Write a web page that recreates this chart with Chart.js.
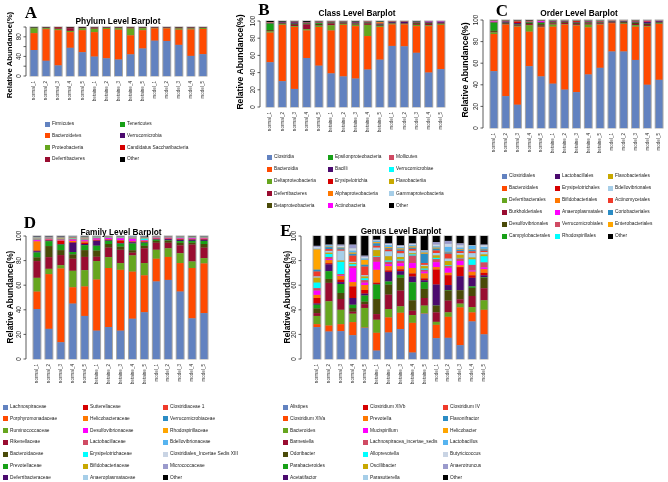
<!DOCTYPE html>
<html>
<head>
<meta charset="utf-8">
<script src="https://cdn.jsdelivr.net/npm/chart.js@4.4.1/dist/chart.umd.min.js"></script>
<style>
  body { margin: 0; width: 668px; height: 482px; position: relative; overflow: hidden; background: #fff;
         font-family: "Liberation Sans", Arial, sans-serif; }
  canvas { position: absolute; }
  .letter { position: absolute; font-family: "Liberation Serif", "Times New Roman", serif; font-weight: bold;
            font-size: 17px; line-height: 17px; transform: translate(-50%, -50%); }
  .title { position: absolute; font-weight: bold; font-size: 8.3px; white-space: nowrap; transform: translate(-50%, -50%); }
  .ytitle { position: absolute; font-weight: bold; white-space: nowrap; transform: translate(-50%, -50%) rotate(-90deg); }
  .sw { position: absolute; width: 5px; height: 5px; }
  .lt { position: absolute; font-size: 4.8px; line-height: 6px; color: #222; white-space: nowrap; }
</style>
</head>
<body>
<script>
const samples = ["normal_1", "normal_2", "normal_3", "normal_4", "normal_5",
  "betaine_1", "betaine_2", "betaine_3", "betaine_4", "betaine_5",
  "model_1", "model_2", "model_3", "model_4", "model_5"];

// palette shared by the panels (R style)
const pal = ["#6282c0", "#ff4a00", "#66a61e", "#990c30", "#4a4a08", "#17a017", "#4b0a6e",
  "#d60000", "#ff7800", "#ff00ff", "#d04a63", "#00ffff", "#c8a800", "#a6cee8",
  "#f03a2a", "#2b8cc4", "#ffa500", "#56b4f0", "#c9d4e4", "#9a9acc"];

// ---- A: phylum ----
const phylumNames = ["Firmicutes", "Bacteroidetes", "Proteobacteria", "Deferribacteres",
  "Tenericutes", "Verrucomicrobia", "Candidatus Saccharibacteria", "Other"];
const phylumColors = [pal[0], pal[1], pal[2], pal[3], pal[5], pal[6], pal[7], "#000000"];
const phylumValues = [
  [53, 31, 21.5, 57.5, 48.5, 39.5, 36, 33.5, 44, 56, 72, 71.5, 63.5, 41, 44.5],
  [34.5, 64.5, 72, 32, 45, 50, 60, 61, 39, 37.5, 25, 25.5, 31, 54, 51.5],
  [10, 2, 2.5, 2.5, 3.5, 7, 2, 3, 14, 4, 1, 1, 2.5, 2, 2],
  [0.5, 0.5, 1.5, 5.5, 0.5, 2, 0.5, 0.5, 1.5, 0.5, 0.5, 0.5, 1, 1.5, 0.5],
  [0.5, 0.2, 0.2, 0.2, 0.5, 0.2, 0.2, 0.2, 0.3, 0.2, 0.2, 0.2, 0.2, 0.2, 0.2],
  [0.2, 0.3, 0.3, 0.3, 0.2, 0.3, 0.2, 0.3, 0.2, 0.3, 0.2, 0.2, 0.3, 0.3, 0.3],
  [0.3, 0.5, 1, 0.5, 0.3, 0.3, 0.3, 0.5, 0.3, 0.5, 0.3, 0.3, 0.5, 0.3, 0.3],
  [1, 1, 1, 1.5, 1.5, 0.7, 0.8, 1, 0.7, 1, 0.8, 0.8, 1, 0.7, 0.7]
];

// ---- B: class ----
const classNames = ["Clostridia", "Bacteroidia", "Deltaproteobacteria", "Deferribacteres", "Betaproteobacteria",
  "Epsilonproteobacteria", "Bacilli", "Erysipelotrichia", "Alphaproteobacteria", "Actinobacteria",
  "Mollicutes", "Verrucomicrobiae", "Flavobacteriia", "Gammaproteobacteria", "Other"];
const classValues = [
  [52, 30, 21, 57, 48, 39, 35.5, 33, 43.5, 55, 71, 70.5, 63, 40, 44],
  [34.5, 65.5, 72, 32, 45, 50, 60, 61, 39, 38, 25, 25.5, 31, 54, 51.5],
  [1.5, 0.8, 1, 1.5, 1.5, 6, 1, 1.5, 13, 1, 0.8, 0.5, 1.5, 1, 1],
  [0.5, 0.3, 1.5, 5.5, 0.5, 2, 0.5, 0.5, 1.5, 0.5, 0.3, 0.5, 1, 1.5, 0.5],
  [1, 0.7, 1, 1, 1.5, 1, 1, 1, 1, 1, 0.5, 0.5, 1, 1, 0.5],
  [7.5, 0.2, 0.3, 0.5, 1, 0.3, 0.2, 0.3, 0.3, 0.3, 0.2, 0.2, 0.3, 0.2, 0.2],
  [0.5, 0.8, 1.5, 0.5, 0.5, 0.5, 0.5, 1, 0.5, 1, 1, 1.2, 0.5, 0.7, 0.8],
  [0.3, 0.2, 0.5, 0.3, 0.3, 0.2, 0.2, 0.3, 0.2, 0.3, 0.3, 0.2, 0.3, 0.2, 0.2],
  [0.2, 0.1, 0.1, 0.1, 0.2, 0.1, 0.1, 0.1, 0.1, 1.5, 0.1, 0.1, 0.1, 0.1, 0.1],
  [0.1, 0.1, 0.1, 0.1, 0.1, 0.1, 0.1, 0.1, 0.1, 0.1, 0.1, 0.1, 0.1, 0.5, 0.5],
  [0.3, 0.1, 0.1, 0.1, 0.5, 0.1, 0.1, 0.1, 0.2, 0.1, 0.1, 0.1, 0.1, 0.1, 0.1],
  [0.1, 0.1, 0.1, 0.1, 0.1, 0.1, 0.1, 0.1, 0.1, 0.2, 0.1, 0.1, 0.1, 0.1, 0.1],
  [0.1, 0.1, 0.1, 0.1, 0.1, 0.1, 0.1, 0.1, 0.1, 0.1, 0.1, 0.1, 0.1, 0.1, 0.1],
  [0.1, 0.1, 0.1, 0.1, 0.1, 0.1, 0.1, 0.1, 0.1, 0.1, 0.1, 0.1, 0.1, 0.1, 0.1],
  [1.3, 0.9, 0.6, 1.1, 0.6, 0.4, 0.5, 0.8, 0.3, 0.8, 0.3, 0.3, 0.7, 0.3, 0.3]
];

// ---- C: order ----
const orderNames = ["Clostridiales", "Bacteroidales", "Deferribacterales", "Burkholderiales", "Desulfovibrionales",
  "Campylobacterales", "Lactobacillales", "Erysipelotrichales", "Bifidobacteriales", "Anaeroplasmatales",
  "Verrucomicrobiales", "Rhodospirillales", "Flavobacteriales", "Bdellovibrionales", "Actinomycetales",
  "Coriobacteriales", "Enterobacteriales", "Other"];
const orderValues = [
  [52.6, 29.5, 21.5, 57.2, 47.7, 41, 35.5, 33.2, 49.5, 55.7, 70.8, 70.8, 63, 40, 44.6],
  [34.4, 66.2, 72.3, 32, 45.5, 52.8, 60.2, 61.6, 43.7, 40, 26.2, 25.5, 30.8, 53.8, 51.7],
  [1.5, 0.3, 0.5, 6, 0.5, 2, 0.5, 0.5, 2.5, 0.5, 0.2, 0.5, 1.5, 0.7, 0.5],
  [0.5, 0.5, 0.5, 1, 1, 1, 1, 0.8, 1, 0.7, 0.5, 0.5, 1, 0.9, 0.5],
  [1, 0.8, 1, 1, 1.5, 1, 0.8, 1, 1, 0.7, 0.5, 0.8, 1, 1, 0.6],
  [7.5, 0.2, 0.3, 0.5, 1, 0.3, 0.2, 0.3, 0.3, 0.3, 0.2, 0.2, 0.3, 0.2, 0.2],
  [0.3, 1, 1, 0.5, 0.5, 0.5, 0.5, 0.5, 0.5, 0.5, 0.5, 0.6, 0.8, 1.5, 0.7],
  [0.3, 0.2, 1.5, 0.3, 0.3, 0.2, 0.2, 1, 0.2, 0.2, 0.2, 0.2, 0.3, 0.5, 0.2],
  [0.1, 0.1, 0.1, 0.1, 0.1, 0.1, 0.1, 0.1, 0.1, 0.3, 0.1, 0.1, 0.1, 0.1, 0.1],
  [0.5, 0.1, 0.1, 0.1, 0.8, 0.1, 0.1, 0.1, 0.2, 0.1, 0.1, 0.1, 0.1, 0.5, 0.1],
  [0.3, 0.1, 0.1, 0.1, 0.1, 0.1, 0.1, 0.1, 0.1, 0.1, 0.1, 0.1, 0.1, 0.1, 0.1],
  [0.1, 0.1, 0.1, 0.1, 0.1, 0.1, 0.1, 0.1, 0.1, 0.1, 0.1, 0.1, 0.1, 0.1, 0.1],
  [0.1, 0.1, 0.1, 0.1, 0.1, 0.1, 0.1, 0.1, 0.1, 0.1, 0.1, 0.1, 0.1, 0.1, 0.1],
  [0.1, 0.1, 0.1, 0.1, 0.1, 0.1, 0.1, 0.1, 0.1, 0.1, 0.1, 0.1, 0.1, 0.1, 0.1],
  [0.1, 0.1, 0.1, 0.1, 0.1, 0.1, 0.1, 0.1, 0.1, 0.1, 0.1, 0.1, 0.1, 0.1, 0.1],
  [0.1, 0.1, 0.1, 0.1, 0.1, 0.1, 0.1, 0.1, 0.1, 0.1, 0.05, 0.1, 0.1, 0.1, 0.1],
  [0.1, 0.1, 0.1, 0.1, 0.1, 0.1, 0.1, 0.1, 0.1, 0.1, 0.05, 0.1, 0.1, 0.1, 0.1],
  [0.4, 0.4, 0.5, 0.6, 0.4, 0.3, 0.2, 0.2, 0.3, 0.3, 0.1, 0.1, 0.4, 0.1, 0.1]
];

// ---- D: family ----
const familyNames = ["Lachnospiraceae", "Porphyromonadaceae", "Ruminococcaceae", "Rikenellaceae", "Bacteroidaceae",
  "Prevotellaceae", "Deferribacteraceae", "Sutterellaceae", "Helicobacteraceae", "Desulfovibrionaceae",
  "Lactobacillaceae", "Erysipelotrichaceae", "Bifidobacteriaceae", "Anaeroplasmataceae", "Clostridiaceae 1",
  "Verrucomicrobiaceae", "Rhodospirillaceae", "Bdellovibrionaceae", "Clostridiales_Incertae Sedis XIII",
  "Micrococcaceae", "Other"];
const familyValues = [
  [40.6, 24.5, 13.6, 45, 35, 23, 26, 23, 32.7, 38, 63, 64.3, 54.8, 33, 37.3],
  [14.2, 44.5, 60, 13.3, 24, 41.6, 48, 49.5, 38.3, 30, 18.5, 18.7, 23.2, 41, 40.4],
  [11.2, 4.3, 2.7, 13.4, 13.2, 15, 8.8, 5.5, 13.2, 10, 7.3, 7, 8, 5.3, 4.3],
  [13.6, 9.5, 8.2, 9.8, 10.8, 3.5, 7.7, 10.8, 2.2, 12, 5.7, 4.5, 6.4, 13.7, 8.5],
  [3, 9, 4, 3.5, 5.5, 5, 3, 2.5, 2, 2, 1.5, 1.5, 2, 1.5, 3],
  [4, 4, 4.5, 2, 4, 4, 2.5, 2.5, 5.5, 2.5, 1, 0.5, 1.5, 1.5, 2.5],
  [1, 0.5, 0.5, 7.5, 1, 4, 0.5, 0.5, 1, 0.5, 0.5, 1, 1, 1, 1],
  [0.5, 0.5, 2.5, 0.5, 1, 0.5, 0.5, 2, 0.5, 0.5, 0.3, 0.3, 0.5, 0.3, 0.5],
  [7.5, 0.3, 0.3, 1, 1, 0.3, 0.3, 0.3, 0.3, 0.5, 0.2, 0.2, 0.3, 0.2, 0.3],
  [1, 0.5, 0.5, 1, 1, 1, 1, 1.5, 2, 0.5, 0.5, 0.5, 0.5, 0.5, 0.5],
  [0.5, 0.3, 0.5, 0.5, 0.5, 0.5, 0.3, 0.3, 0.3, 0.3, 0.3, 0.3, 0.3, 0.5, 0.3],
  [0.3, 0.2, 0.3, 0.3, 0.3, 0.2, 0.2, 0.2, 0.2, 1, 0.2, 0.2, 0.2, 0.2, 0.2],
  [0.3, 0.2, 0.3, 0.3, 0.3, 0.2, 0.2, 0.2, 0.2, 0.3, 0.1, 0.1, 0.1, 0.2, 0.2],
  [0.3, 0.2, 0.3, 0.3, 0.3, 0.2, 0.2, 0.2, 0.2, 0.2, 0.1, 0.1, 0.1, 0.1, 0.1],
  [0.2, 0.2, 0.3, 0.3, 0.5, 0.2, 0.1, 0.2, 0.2, 0.2, 0.1, 0.1, 0.1, 0.1, 0.1],
  [0.3, 0.2, 0.2, 0.2, 0.2, 0.1, 0.1, 0.1, 0.2, 0.3, 0.1, 0.1, 0.2, 0.1, 0.1],
  [0.2, 0.1, 0.2, 0.2, 0.3, 0.1, 0.1, 0.1, 0.2, 0.3, 0.1, 0.1, 0.1, 0.1, 0.1],
  [0.2, 0.1, 0.2, 0.2, 0.2, 0.1, 0.1, 0.1, 0.2, 0.2, 0.1, 0.1, 0.1, 0.1, 0.1],
  [0.3, 0.2, 0.2, 0.2, 0.3, 0.2, 0.1, 0.1, 0.2, 0.2, 0.1, 0.1, 0.2, 0.1, 0.1],
  [0.3, 0.2, 0.2, 0, 0.1, 0.1, 0.1, 0.1, 0.2, 0.1, 0.1, 0.1, 0.1, 0.1, 0.1],
  [0.5, 0.5, 0.5, 0.2, 0.5, 0.2, 0.2, 0.3, 0.2, 0.4, 0.3, 0.2, 0.3, 0.5, 0.4]
];

// ---- E: genus ----
const genusNames = ["Alistipes", "Clostridium XlVa", "Bacteroides", "Barnesiella", "Odoribacter",
  "Parabacteroides", "Acetatifactor", "Clostridium XlVb", "Prevotella", "Mucispirillum",
  "Lachnospiracea_incertae_sedis", "Alloprevotella", "Oscillibacter", "Parasutterella", "Clostridium IV",
  "Flavonifractor", "Helicobacter", "Lactobacillus", "Butyricicoccus", "Anaerotruncus", "Other"];
const genusValues = [
  [25.9, 22.3, 22.6, 19.3, 25.3, 6.8, 21.5, 24.3, 5.2, 36.8, 16.9, 17.2, 11.2, 30.5, 20],
  [2.4, 4.9, 5.7, 10.7, 0.3, 14.5, 12.3, 13.3, 24.2, 0.3, 10.9, 17.1, 30.8, 7.4, 20],
  [6.7, 19.7, 11.7, 6.8, 15.9, 10.6, 6.8, 5.2, 6.3, 6.3, 2.4, 3.6, 3, 4.3, 7.7],
  [2.3, 15, 8.8, 1.6, 3.1, 4.6, 11.7, 12.8, 3.5, 6.2, 7.7, 9.5, 3.5, 9, 9.8],
  [3.8, 3.2, 4.9, 3, 2, 12.3, 8.2, 10.4, 8.5, 7.4, 5.4, 8.2, 7.4, 6.6, 8.5],
  [3, 6.3, 7.3, 2.7, 5, 11.7, 2.5, 2.4, 14.7, 5.5, 0.2, 0.5, 0.1, 1.2, 0.5],
  [1, 5.5, 1.5, 5.5, 1.5, 0.5, 7.8, 3, 4.6, 1.5, 17, 4, 11.3, 7, 1.5],
  [4.5, 1, 2, 9.4, 3, 1, 1.2, 1.5, 2.5, 1.5, 12.2, 8, 7.4, 2, 2],
  [2.5, 2.5, 3, 3.5, 4, 10.5, 3.5, 2.5, 4.5, 4, 2, 2, 1.5, 3, 3],
  [3.5, 1, 0.5, 11.5, 2, 6.5, 1.5, 2.5, 4, 1.5, 4, 4, 3.5, 1, 1.5],
  [2, 1.5, 1, 1.5, 2, 4, 2, 2, 6, 1.5, 2.5, 1.5, 2, 4.5, 4],
  [4.5, 2.5, 10, 1.5, 1.5, 0.5, 1, 1, 1, 1, 1, 0.5, 0.5, 4.5, 5],
  [4, 1, 1, 1, 1.5, 5, 3.5, 2, 1, 2, 2, 3.5, 2.5, 1.5, 1.5],
  [1, 1.5, 8, 1, 1, 2, 4, 3, 2, 1, 2, 2, 1.5, 3.5, 2],
  [4, 1.5, 1, 5, 7, 1.5, 1.5, 2, 1.5, 1.5, 2, 4, 1.5, 1.5, 1],
  [1.5, 1.5, 1, 1.5, 1.5, 2, 1, 1, 1, 7.5, 1.5, 1, 1, 1, 1],
  [16.5, 0.5, 0.5, 1, 4, 1, 1, 1, 1, 1, 0.8, 0.5, 0.5, 0.5, 0.5],
  [0.5, 1, 0.5, 1.5, 1, 1, 1.5, 1, 1, 1, 1, 4, 1.3, 3, 1.5],
  [1.5, 0.3, 1, 2, 1.4, 0.5, 1, 1.1, 1, 0.5, 1.5, 2.5, 2, 0.5, 1.5],
  [0.9, 0.3, 1, 3, 1, 0.5, 0.5, 0.5, 0.5, 0.5, 2, 2.4, 1.5, 0, 0.5],
  [8, 7, 7, 7, 16, 3, 6, 7.5, 6, 11.5, 5, 4, 6, 7.5, 7]
];

const fullTicks = [0, 20, 40, 60, 80, 100];

// grey frame behind each bar, like the R barplot border
const barFrame = {
  id: "barFrame",
  beforeDatasetsDraw(chart) {
    const ctx = chart.ctx;
    const y = chart.scales.y;
    const meta = chart.getDatasetMeta(0);
    ctx.save();
    ctx.fillStyle = "#a8a8a8";
    meta.data.forEach(bar => {
      const top = y.getPixelForValue(100), bot = y.getPixelForValue(0);
      ctx.fillRect(bar.x - bar.width / 2 - 1, top - 0.5, bar.width + 2, bot - top + 1);
    });
    ctx.restore();
  }
};

// R-like axis: line + ticks + rotated labels, and vertical sample names
const rAxis = {
  id: "rAxis",
  afterDraw(chart, args, o) {
    const ctx = chart.ctx;
    const y = chart.scales.y, x = chart.scales.x;
    const ax = chart.chartArea.left - o.gap;
    ctx.save();
    ctx.strokeStyle = "#333";
    ctx.lineWidth = 0.8;
    ctx.beginPath();
    ctx.moveTo(ax, y.getPixelForValue(0));
    ctx.lineTo(ax, y.getPixelForValue(100));
    fullTicks.forEach(v => {
      const py = y.getPixelForValue(v);
      ctx.moveTo(ax, py);
      ctx.lineTo(ax - 2.5, py);
    });
    ctx.stroke();
    ctx.fillStyle = "#222";
    ctx.font = o.tickFont + "px 'Liberation Sans', Arial, sans-serif";
    o.labels.forEach(v => {
      ctx.save();
      ctx.translate(ax - 3.5, y.getPixelForValue(v));
      ctx.rotate(-Math.PI / 2);
      ctx.textAlign = "center";
      ctx.textBaseline = "bottom";
      ctx.fillText(String(v), 0, 0);
      ctx.restore();
    });
    ctx.font = "4.6px 'Liberation Sans', Arial, sans-serif";
    ctx.fillStyle = "#333";
    chart.data.labels.forEach((lab, i) => {
      ctx.save();
      ctx.translate(x.getPixelForValue(i), chart.chartArea.bottom + o.xgap);
      ctx.rotate(-Math.PI / 2);
      ctx.textAlign = "right";
      ctx.textBaseline = "middle";
      ctx.fillText(lab, 0, 0);
      ctx.restore();
    });
    ctx.restore();
  }
};

function addText(cls, txt, x, y, extra) {
  const d = document.createElement("div");
  d.className = cls;
  d.textContent = txt;
  d.style.left = x + "px";
  d.style.top = y + "px";
  if (extra) Object.assign(d.style, extra);
  document.body.appendChild(d);
}

function makePanel(p) {
  const cv = document.createElement("canvas");
  cv.width = p.w;
  cv.height = p.h;
  cv.style.left = p.left + "px";
  cv.style.top = p.top + "px";
  document.body.appendChild(cv);

  new Chart(cv, {
    type: "bar",
    data: {
      labels: samples,
      datasets: p.names.map((n, i) => ({
        label: n,
        data: p.values[i],
        backgroundColor: p.colors[i],
        borderWidth: 0,
        barPercentage: 0.58,
        categoryPercentage: 1
      }))
    },
    options: {
      responsive: false,
      animation: false,
      layout: { padding: { left: p.pl, top: p.pt, bottom: p.pb, right: 1 } },
      plugins: {
        legend: { display: false },
        tooltip: { enabled: false },
        rAxis: { gap: p.gap, labels: p.tickLabels, tickFont: 6.3, xgap: 5 }
      },
      scales: {
        x: { stacked: true, display: false },
        y: { stacked: true, display: false, min: 0, max: 100 }
      }
    },
    plugins: [barFrame, rAxis]
  });

  addText("letter", p.letter, p.letterX, p.letterY);
  addText("title", p.title, p.titleX, p.titleY);
  addText("ytitle", "Relative Abundance(%)", p.ytX, p.ytY, { fontSize: p.ytSize + "px" });

  // legend, filled column by column like the R legend
  p.names.forEach((n, i) => {
    const col = Math.floor(i / p.rows), row = i % p.rows;
    const lx = p.legX[col], ly = p.legY0 + row * p.legDy;
    const sw = document.createElement("div");
    sw.className = "sw";
    sw.style.left = lx + "px";
    sw.style.top = (ly - 2.5) + "px";
    sw.style.background = p.colors[i];
    document.body.appendChild(sw);
    addText("lt", n, lx + 7, ly - 3);
  });
}

const colors21 = pal.concat(["#000000"]);
const classColors = pal.slice(0, 14).concat(["#000000"]);
const orderColors = pal.slice(0, 17).concat(["#000000"]);

makePanel({ names: phylumNames, values: phylumValues, colors: phylumColors,
  left: 0, top: 20, w: 210, h: 86, pl: 28, pt: 7, pb: 30, gap: 2, tickLabels: [0, 40, 80],
  letter: "A", letterX: 31, letterY: 12, title: "Phylum Level Barplot", titleX: 118, titleY: 21,
  ytX: 9, ytY: 55, ytSize: 7.8, rows: 4, legX: [45, 120], legY0: 124, legDy: 11.8 });

makePanel({ names: classNames, values: classValues, colors: classColors,
  left: 234, top: 14, w: 214, h: 123, pl: 30, pt: 7, pb: 30, gap: 4, tickLabels: fullTicks,
  letter: "B", letterX: 264, letterY: 9, title: "Class Level Barplot", titleX: 357, titleY: 13,
  ytX: 240, ytY: 62, ytSize: 8.6, rows: 5, legX: [267, 328, 389], legY0: 157, legDy: 12.2 });

makePanel({ names: orderNames, values: orderValues, colors: orderColors,
  left: 458, top: 13, w: 208, h: 145, pl: 30, pt: 7, pb: 30, gap: 5, tickLabels: fullTicks,
  letter: "C", letterX: 502, letterY: 10, title: "Order Level Barplot", titleX: 579, titleY: 13,
  ytX: 465, ytY: 70, ytSize: 8.6, rows: 6, legX: [502, 555, 608], legY0: 176, legDy: 12 });

makePanel({ names: familyNames, values: familyValues, colors: colors21,
  left: 0, top: 229, w: 211, h: 160, pl: 31, pt: 7, pb: 30, gap: 5, tickLabels: fullTicks,
  letter: "D", letterX: 30, letterY: 222, title: "Family Level Barplot", titleX: 121, titleY: 232,
  ytX: 10, ytY: 297, ytSize: 8.4, rows: 7, legX: [3, 83, 163], legY0: 407, legDy: 11.8 });

makePanel({ names: genusNames, values: genusValues, colors: colors21,
  left: 280, top: 229, w: 211, h: 160, pl: 31, pt: 7, pb: 30, gap: 10, tickLabels: fullTicks,
  letter: "E", letterX: 286, letterY: 230, title: "Genus Level Barplot", titleX: 401, titleY: 231,
  ytX: 287, ytY: 297, ytSize: 8.4, rows: 7, legX: [283, 363, 443], legY0: 407, legDy: 11.8 });
</script>
</body>
</html>
